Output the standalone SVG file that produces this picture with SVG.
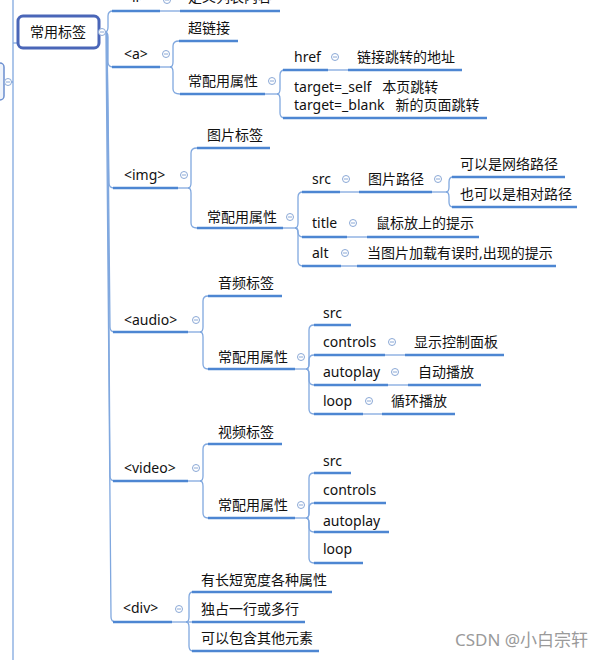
<svg xmlns="http://www.w3.org/2000/svg" xmlns:xlink="http://www.w3.org/1999/xlink" width="607" height="660" viewBox="0 0 607 660">
<style>
.t{font-family:"Noto Sans","Noto Sans CJK SC",sans-serif;font-size:14px;fill:#111}
.u{stroke:#4d86d2;stroke-width:2.5;fill:none}
.c{stroke:#80a8df;stroke-width:1.3;fill:none}
.wm{font-family:"Noto Sans","Noto Sans CJK SC",sans-serif;font-size:17px;fill:#9a9a9a}
</style>
<defs>
<g id="col"><circle r="3.5" fill="#fff" stroke="#8aa8d6" stroke-width="1"/><line x1="-2" y1="0" x2="2" y2="0" stroke="#8aa8d6" stroke-width="1"/></g>
</defs>
<rect width="607" height="660" fill="#fff"/>

<g id="connectors">
<line class="c" x1="13" y1="0" x2="13" y2="660"/>
<line class="c" x1="13" y1="43" x2="18" y2="43"/>
<line class="c" x1="11" y1="82" x2="13" y2="82"/>
<path class="c" d="M99,32 L105,32"/>
<path class="c" d="M105,32 Q108,32 108,27 L108,16 Q108,11 113,11"/>
<path class="c" d="M105,32 Q108,32 108,37 L108,62 Q108,67 113,67"/>
<path class="c" d="M105,32 Q107,32 107,37 L109,183 Q109,188 114,188"/>
<path class="c" d="M105,32 Q107,32 107,37 L110,327 Q110,332 115,332"/>
<path class="c" d="M105,32 Q107,32 107,37 L110,476 Q110,481 115,481"/>
<path class="c" d="M105,32 Q106,32 106,37 L111,617 Q111,622 116,622"/>
<path class="c" d="M160,11 L180,11"/>
<path class="c" d="M160,67 L170,67"/>
<path class="c" d="M170,67 Q173,67 173,62 L173,46 Q173,41 179,41"/>
<path class="c" d="M170,67 Q173,67 173,72 L173,89 Q173,94 180,94"/>
<path class="c" d="M265,94 L277,94"/>
<path class="c" d="M277,94 Q280,94 280,89 L280,75 Q280,70 285,70"/>
<path class="c" d="M277,94 Q280,94 280,99 L280,113 Q280,118 285,118"/>
<path class="c" d="M328,70 L348,70"/>
<path class="c" d="M178,188 L188,188"/>
<path class="c" d="M188,188 Q191,188 191,183 L191,153 Q191,148 197,148"/>
<path class="c" d="M188,188 Q191,188 191,193 L191,223 Q191,228 197,228"/>
<path class="c" d="M283,228 L295,228"/>
<path class="c" d="M295,228 Q298,228 298,223 L298,197 Q298,192 303,192"/>
<path class="c" d="M295,228 Q298,228 298,232 Q298,237 303,237"/>
<path class="c" d="M295,228 Q298,228 298,233 L298,261 Q298,266 303,266"/>
<path class="c" d="M340,192 L359,192"/>
<path class="c" d="M432,192 L446,192"/>
<path class="c" d="M446,192 Q449,192 449,187 L449,182 Q449,177 453,177"/>
<path class="c" d="M446,192 Q449,192 449,197 L449,202 Q449,207 453,207"/>
<path class="c" d="M347,237 L367,237"/>
<path class="c" d="M341,266 L357,266"/>
<path class="c" d="M188,332 L200,332"/>
<path class="c" d="M200,332 Q203,332 203,327 L203,301 Q203,296 208,296"/>
<path class="c" d="M200,332 Q203,332 203,337 L203,364 Q203,369 208,369"/>
<path class="c" d="M295,369 L306,369"/>
<path class="c" d="M306,369 Q309,369 309,364 L309,330 Q309,325 314,325"/>
<path class="c" d="M306,369 Q309,369 309,364 L309,360 Q309,355 314,355"/>
<path class="c" d="M306,369 Q309,369 309,374 L309,380 Q309,385 314,385"/>
<path class="c" d="M306,369 Q309,369 309,374 L309,409 Q309,414 314,414"/>
<path class="c" d="M385,355 L405,355"/>
<path class="c" d="M388,385 L408,385"/>
<path class="c" d="M363,414 L382,414"/>
<path class="c" d="M188,481 L200,481"/>
<path class="c" d="M200,481 Q203,481 203,476 L203,449 Q203,444 208,444"/>
<path class="c" d="M200,481 Q203,481 203,486 L203,513 Q203,518 208,518"/>
<path class="c" d="M295,518 L306,518"/>
<path class="c" d="M306,518 Q309,518 309,513 L309,478 Q309,473 314,473"/>
<path class="c" d="M306,518 Q309,518 309,513 L309,508 Q309,503 314,503"/>
<path class="c" d="M306,518 Q309,518 309,523 L309,527 Q309,532 314,532"/>
<path class="c" d="M306,518 Q309,518 309,523 L309,558 Q309,563 314,563"/>
<path class="c" d="M172,622 L186,622"/>
<path class="c" d="M186,622 Q189,622 189,617 L189,597 Q189,592 193,592"/>
<path class="c" d="M186,622 L192,622"/>
<path class="c" d="M186,622 Q189,622 189,627 L189,646 Q189,651 193,651"/>
</g>

<g id="left-node">
<rect x="-8" y="63" width="12" height="37" rx="4" fill="#eef3fb" stroke="#6b8fd0" stroke-width="1.5"/>
<use xlink:href="#col" x="8" y="82"/>
</g>

<g id="root">
<rect x="18" y="16" width="81" height="32" rx="5" fill="#fff" stroke="#4a66b8" stroke-width="3"/>
<text class="t" x="58" y="37" text-anchor="middle">常用标签</text>
<use xlink:href="#col" x="102" y="32"/>
</g>

<g id="li">
<text class="t" x="124" y="2">&lt;li&gt;</text>
<line class="u" x1="112" y1="11" x2="160" y2="11"/>
<use xlink:href="#col" x="167" y="0"/>
</g>
<g id="li-def">
<text class="t" x="188" y="2">定义列表内容</text>
<line class="u" x1="180" y1="11" x2="280" y2="11"/>
</g>

<g id="a">
<text class="t" x="124" y="59">&lt;a&gt;</text>
<line class="u" x1="112" y1="67" x2="160" y2="67"/>
<use xlink:href="#col" x="166" y="54"/>
</g>
<g id="a-link">
<text class="t" x="188" y="33">超链接</text>
<line class="u" x1="179" y1="41" x2="238" y2="41"/>
</g>
<g id="a-attr">
<text class="t" x="188" y="86">常配用属性</text>
<line class="u" x1="180" y1="94" x2="265" y2="94"/>
<use xlink:href="#col" x="272" y="81"/>
</g>
<g id="a-href">
<text class="t" x="294" y="62">href</text>
<line class="u" x1="283" y1="70" x2="328" y2="70"/>
<use xlink:href="#col" x="335" y="57"/>
</g>
<g id="a-href-desc">
<text class="t" x="357" y="62">链接跳转的地址</text>
<line class="u" x1="348" y1="70" x2="462" y2="70"/>
</g>
<g id="a-target">
<text class="t" x="294" y="92" xml:space="preserve">target=_self   本页跳转</text>
<text class="t" x="294" y="110" xml:space="preserve">target=_blank   新的页面跳转</text>
<line class="u" x1="283" y1="118" x2="487" y2="118"/>
</g>

<g id="img">
<text class="t" x="124" y="180">&lt;img&gt;</text>
<line class="u" x1="113" y1="188" x2="178" y2="188"/>
<use xlink:href="#col" x="184" y="175"/>
</g>
<g id="img-tag">
<text class="t" x="207" y="140">图片标签</text>
<line class="u" x1="197" y1="148" x2="270" y2="148"/>
</g>
<g id="img-attr">
<text class="t" x="207" y="222">常配用属性</text>
<line class="u" x1="197" y1="228" x2="283" y2="228"/>
<use xlink:href="#col" x="290" y="217"/>
</g>
<g id="img-src">
<text class="t" x="312" y="184">src</text>
<line class="u" x1="302" y1="192" x2="340" y2="192"/>
<use xlink:href="#col" x="346" y="179"/>
</g>
<g id="img-src-path">
<text class="t" x="368" y="184">图片路径</text>
<line class="u" x1="359" y1="192" x2="432" y2="192"/>
<use xlink:href="#col" x="438" y="179"/>
</g>
<g id="img-src-net">
<text class="t" x="460" y="169">可以是网络路径</text>
<line class="u" x1="452" y1="177" x2="565" y2="177"/>
</g>
<g id="img-src-rel">
<text class="t" x="460" y="199">也可以是相对路径</text>
<line class="u" x1="452" y1="207" x2="577" y2="207"/>
</g>
<g id="img-title">
<text class="t" x="312" y="228">title</text>
<line class="u" x1="302" y1="237" x2="347" y2="237"/>
<use xlink:href="#col" x="353" y="223"/>
</g>
<g id="img-title-desc">
<text class="t" x="376" y="228">鼠标放上的提示</text>
<line class="u" x1="367" y1="237" x2="479" y2="237"/>
</g>
<g id="img-alt">
<text class="t" x="312" y="258">alt</text>
<line class="u" x1="302" y1="266" x2="341" y2="266"/>
<use xlink:href="#col" x="345" y="253"/>
</g>
<g id="img-alt-desc">
<text class="t" x="367" y="258">当图片加载有误时,出现的提示</text>
<line class="u" x1="357" y1="266" x2="556" y2="266"/>
</g>

<g id="audio">
<text class="t" x="124" y="325">&lt;audio&gt;</text>
<line class="u" x1="113" y1="332" x2="188" y2="332"/>
<use xlink:href="#col" x="196" y="320"/>
</g>
<g id="audio-tag">
<text class="t" x="218" y="288">音频标签</text>
<line class="u" x1="208" y1="296" x2="282" y2="296"/>
</g>
<g id="audio-attr">
<text class="t" x="218" y="362">常配用属性</text>
<line class="u" x1="208" y1="369" x2="295" y2="369"/>
<use xlink:href="#col" x="301" y="357"/>
</g>
<g id="audio-src">
<text class="t" x="323" y="318">src</text>
<line class="u" x1="314" y1="325" x2="351" y2="325"/>
</g>
<g id="audio-controls">
<text class="t" x="323" y="347">controls</text>
<line class="u" x1="314" y1="355" x2="385" y2="355"/>
<use xlink:href="#col" x="392" y="342"/>
</g>
<g id="audio-controls-desc">
<text class="t" x="414" y="347">显示控制面板</text>
<line class="u" x1="405" y1="355" x2="504" y2="355"/>
</g>
<g id="audio-autoplay">
<text class="t" x="323" y="377">autoplay</text>
<line class="u" x1="314" y1="385" x2="388" y2="385"/>
<use xlink:href="#col" x="395" y="372"/>
</g>
<g id="audio-autoplay-desc">
<text class="t" x="418" y="377">自动播放</text>
<line class="u" x1="408" y1="385" x2="481" y2="385"/>
</g>
<g id="audio-loop">
<text class="t" x="323" y="406">loop</text>
<line class="u" x1="314" y1="414" x2="363" y2="414"/>
<use xlink:href="#col" x="369" y="401"/>
</g>
<g id="audio-loop-desc">
<text class="t" x="391" y="406">循环播放</text>
<line class="u" x1="382" y1="414" x2="455" y2="414"/>
</g>

<g id="video">
<text class="t" x="124" y="473">&lt;video&gt;</text>
<line class="u" x1="113" y1="481" x2="188" y2="481"/>
<use xlink:href="#col" x="196" y="468"/>
</g>
<g id="video-tag">
<text class="t" x="218" y="437">视频标签</text>
<line class="u" x1="208" y1="444" x2="282" y2="444"/>
</g>
<g id="video-attr">
<text class="t" x="218" y="510">常配用属性</text>
<line class="u" x1="208" y1="518" x2="295" y2="518"/>
<use xlink:href="#col" x="301" y="505"/>
</g>
<g id="video-src">
<text class="t" x="323" y="466">src</text>
<line class="u" x1="314" y1="473" x2="351" y2="473"/>
</g>
<g id="video-controls">
<text class="t" x="323" y="495">controls</text>
<line class="u" x1="314" y1="503" x2="386" y2="503"/>
</g>
<g id="video-autoplay">
<text class="t" x="323" y="526">autoplay</text>
<line class="u" x1="314" y1="532" x2="389" y2="532"/>
</g>
<g id="video-loop">
<text class="t" x="323" y="554">loop</text>
<line class="u" x1="314" y1="563" x2="363" y2="563"/>
</g>

<g id="div">
<text class="t" x="123" y="613">&lt;div&gt;</text>
<line class="u" x1="113" y1="622" x2="172" y2="622"/>
<use xlink:href="#col" x="179" y="609"/>
</g>
<g id="div-1">
<text class="t" x="201" y="585">有长短宽度各种属性</text>
<line class="u" x1="192" y1="592" x2="332" y2="592"/>
</g>
<g id="div-2">
<text class="t" x="201" y="614">独占一行或多行</text>
<line class="u" x1="192" y1="622" x2="305" y2="622"/>
</g>
<g id="div-3">
<text class="t" x="201" y="643">可以包含其他元素</text>
<line class="u" x1="192" y1="651" x2="319" y2="651"/>
</g>

<text class="wm" x="455" y="646">CSDN @小白宗轩</text>
</svg>
